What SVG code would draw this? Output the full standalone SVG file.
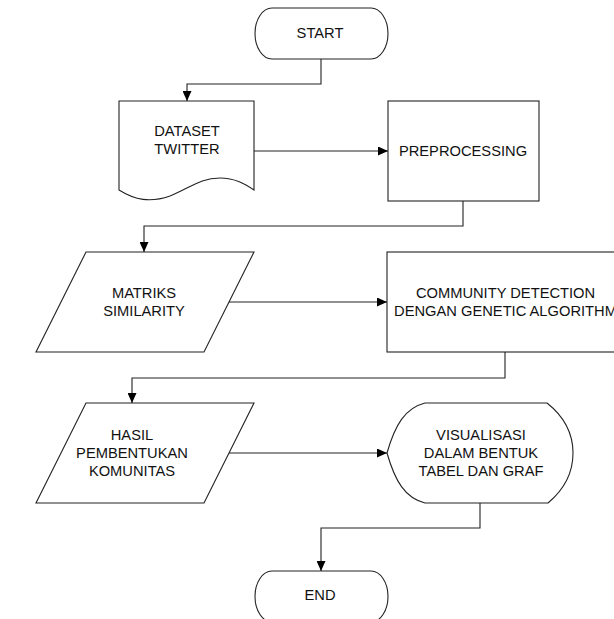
<svg xmlns="http://www.w3.org/2000/svg" width="614" height="619" viewBox="0 0 614 619">
<defs>
<marker id="arr" markerUnits="userSpaceOnUse" markerWidth="10" markerHeight="9" refX="10" refY="4.5" orient="auto">
<path d="M0,0 L10,4.5 L0,9 Z" fill="#000"/>
</marker>
<style>
.s{fill:#fff;stroke:#222;stroke-width:1.1}
.c{fill:none;stroke:#222;stroke-width:1.1;marker-end:url(#arr)}
text{font-family:"Liberation Sans",Arial,sans-serif;font-size:14.7px;fill:#111;text-anchor:middle;dominant-baseline:central}
</style>
</defs>
<rect width="614" height="619" fill="#fff"/>
<g id="connectors">
<path class="c" d="M321,59 V84 H187 V101"/>
<path class="c" d="M254,151 H388"/>
<path class="c" d="M463,201 V226 H144 V252"/>
<path class="c" d="M229,302 H387"/>
<path class="c" d="M505,352 V378 H132 V403"/>
<path class="c" d="M229,453 H387"/>
<path class="c" d="M480,503 V528 H321 V571"/>
</g>
<g id="start">
<path class="s" d="M272,8 H371 A17,25.5 0 0 1 371,59 H272 A17,25.5 0 0 1 272,8 Z"/>
<text x="320" y="33">START</text>
</g>
<g id="dataset">
<path class="s" d="M119,101 H254 V190 C245,184 235,178 220,178 C200,178 190,188 170,196 C150,203 135,200 119,190 Z"/>
<text x="187" y="131">DATASET</text>
<text x="187" y="149">TWITTER</text>
</g>
<g id="preprocessing">
<rect class="s" x="388" y="101" width="151" height="100"/>
<text x="463" y="151">PREPROCESSING</text>
</g>
<g id="matriks">
<path class="s" d="M86,252 H254 L204,352 H36 Z"/>
<text x="144" y="293">MATRIKS</text>
<text x="144" y="311">SIMILARITY</text>
</g>
<g id="community">
<rect class="s" x="387" y="252" width="237" height="100"/>
<text x="505.5" y="293">COMMUNITY DETECTION</text>
<text x="505.5" y="311">DENGAN GENETIC ALGORITHM</text>
</g>
<g id="hasil">
<path class="s" d="M86,403 H254 L204,503 H36 Z"/>
<text x="132" y="435">HASIL</text>
<text x="132" y="453">PEMBENTUKAN</text>
<text x="132" y="471">KOMUNITAS</text>
</g>
<g id="visualisasi">
<path class="s" d="M387,453 C395,425 405,408 425,403 H547 C566,418 573,435 573,453 C573,471 566,488 548,503 H425 C405,498 395,481 387,453 Z"/>
<text x="481" y="435">VISUALISASI</text>
<text x="481" y="453">DALAM BENTUK</text>
<text x="481" y="471">TABEL DAN GRAF</text>
</g>
<g id="end">
<path class="s" d="M272,571 H371 A17,25.5 0 0 1 371,622 H272 A17,25.5 0 0 1 272,571 Z"/>
<text x="320" y="595">END</text>
</g>
</svg>
